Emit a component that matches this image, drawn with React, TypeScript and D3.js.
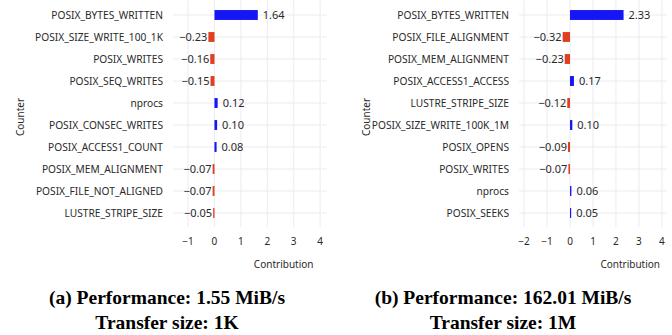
import React, { useRef, useEffect } from "react";
import * as d3 from "d3";

const countersA = [
  "POSIX_BYTES_WRITTEN",
  "POSIX_SIZE_WRITE_100_1K",
  "POSIX_WRITES",
  "POSIX_SEQ_WRITES",
  "nprocs",
  "POSIX_CONSEC_WRITES",
  "POSIX_ACCESS1_COUNT",
  "POSIX_MEM_ALIGNMENT",
  "POSIX_FILE_NOT_ALIGNED",
  "LUSTRE_STRIPE_SIZE",
];
const valuesA = [1.64, -0.23, -0.16, -0.15, 0.12, 0.1, 0.08, -0.07, -0.07, -0.05];
const ticksA = [-1, 0, 1, 2, 3, 4];

const countersB = [
  "POSIX_BYTES_WRITTEN",
  "POSIX_FILE_ALIGNMENT",
  "POSIX_MEM_ALIGNMENT",
  "POSIX_ACCESS1_ACCESS",
  "LUSTRE_STRIPE_SIZE",
  "POSIX_SIZE_WRITE_100K_1M",
  "POSIX_OPENS",
  "POSIX_WRITES",
  "nprocs",
  "POSIX_SEEKS",
];
const valuesB = [2.33, -0.32, -0.23, 0.17, -0.12, 0.1, -0.09, -0.07, 0.06, 0.05];
const ticksB = [-2, -1, 0, 1, 2, 3, 4];

const captionsA = ["(a) Performance: 1.55 MiB/s", "Transfer size: 1K"];
const captionsB = ["(b) Performance: 162.01 MiB/s", "Transfer size: 1M"];

const POS = "#1515f5";
const NEG = "#e0401f";
const GRID = "#ebebf2";
const FONT = "'Noto Sans', sans-serif";

const drawPanel = (svg, opts) => {
  const { offset, counters, values, ticks, domain, captions, plotLeft, plotRight, titleX } = opts;
  const g = svg.append("g").attr("transform", `translate(${offset},0)`);

  const x = d3.scaleLinear().domain(domain).range([plotLeft, plotRight]);
  const y = d3.scaleBand().domain(counters).range([4, 224]).paddingInner(0.55).paddingOuter(0.275);

  // grid
  g.selectAll(".vgrid")
    .data(ticks)
    .enter()
    .append("line")
    .attr("x1", (d) => x(d))
    .attr("x2", (d) => x(d))
    .attr("y1", 0)
    .attr("y2", 227)
    .attr("stroke", GRID)
    .attr("stroke-width", 1);

  g.selectAll(".hgrid")
    .data(counters)
    .enter()
    .append("line")
    .attr("x1", plotLeft)
    .attr("x2", plotRight)
    .attr("y1", (d) => y(d) + y.bandwidth() / 2)
    .attr("y2", (d) => y(d) + y.bandwidth() / 2)
    .attr("stroke", GRID)
    .attr("stroke-width", 1);

  // bars
  g.selectAll(".bar")
    .data(values)
    .enter()
    .append("rect")
    .attr("x", (d) => Math.min(x(0), x(d)))
    .attr("width", (d) => Math.abs(x(d) - x(0)))
    .attr("y", (d, i) => y(counters[i]))
    .attr("height", y.bandwidth())
    .attr("fill", (d) => (d >= 0 ? POS : NEG));

  // value labels
  const fmt = d3.format(".2f");
  g.selectAll(".val")
    .data(values)
    .enter()
    .append("text")
    .attr("x", (d) => (d >= 0 ? x(d) + 5 : x(d) - 1))
    .attr("y", (d, i) => y(counters[i]) + y.bandwidth() / 2)
    .attr("dy", "0.36em")
    .attr("text-anchor", (d) => (d >= 0 ? "start" : "end"))
    .attr("font-family", FONT)
    .attr("font-size", 11)
    .attr("fill", "#2a2a2a")
    .text((d) => fmt(d).replace("-", "\u2212"));

  // category labels
  g.selectAll(".cat")
    .data(counters)
    .enter()
    .append("text")
    .attr("x", plotLeft - 10)
    .attr("y", (d) => y(d) + y.bandwidth() / 2)
    .attr("dy", "0.36em")
    .attr("text-anchor", "end")
    .attr("font-family", FONT)
    .attr("font-size", 10.2)
    .attr("fill", "#2a2a2a")
    .text((d) => d);

  // tick labels
  g.selectAll(".tick")
    .data(ticks)
    .enter()
    .append("text")
    .attr("x", (d) => x(d))
    .attr("y", 245)
    .attr("text-anchor", "middle")
    .attr("font-family", FONT)
    .attr("font-size", 10)
    .attr("fill", "#2a2a2a")
    .text((d) => String(d).replace("-", "\u2212"));

  g.append("text")
    .attr("x", x(2.62))
    .attr("y", 268)
    .attr("text-anchor", "middle")
    .attr("font-family", FONT)
    .attr("font-size", 10)
    .attr("fill", "#2a2a2a")
    .text("Contribution");

  g.append("text")
    .attr("transform", `translate(${titleX},117) rotate(-90)`)
    .attr("text-anchor", "middle")
    .attr("font-family", FONT)
    .attr("font-size", 10)
    .attr("fill", "#2a2a2a")
    .text("Counter");

  // caption
  g.selectAll(".cap")
    .data(captions)
    .enter()
    .append("text")
    .attr("x", 167)
    .attr("y", (d, i) => 304 + i * 25)
    .attr("text-anchor", "middle")
    .attr("font-family", "'Liberation Serif', serif")
    .attr("font-weight", "bold")
    .attr("font-size", 19.5)
    .attr("fill", "#000")
    .text((d) => d);
};

const App = () => {
  const svgRef = useRef(null);

  useEffect(() => {
    const svg = d3.select(svgRef.current);
    svg.selectAll("*").remove();

    drawPanel(svg, {
      offset: 0,
      counters: countersA,
      values: valuesA,
      ticks: ticksA,
      domain: [-1.57, 4.26],
      captions: captionsA,
      plotLeft: 173,
      plotRight: 327,
      titleX: 24,
    });
    drawPanel(svg, {
      offset: 336,
      counters: countersB,
      values: valuesB,
      ticks: ticksB,
      domain: [-2.22, 4.22],
      captions: captionsB,
      plotLeft: 183,
      plotRight: 331,
      titleX: 34,
    });
  }, []);

  return (
    <svg
      ref={svgRef}
      width={672}
      height={335}
      style={{ position: "absolute", left: 0, top: 0, background: "#fff" }}
    ></svg>
  );
};

export default App;
